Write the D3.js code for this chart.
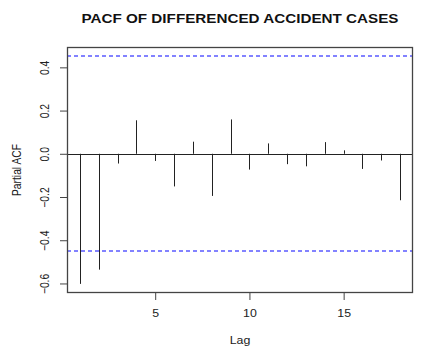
<!DOCTYPE html>
<html>
<head>
<meta charset="utf-8">
<script src="https://cdn.jsdelivr.net/npm/d3@7"></script>
<style>
body{margin:0;background:#fff;}
text{font-family:"Liberation Sans",Arial,sans-serif;}
</style>
</head>
<body>
<svg id="chart"></svg>
<script>
// pacf values
var lags = [1,2,3,4,5,6,7,8,9,10,11,12,13,14,15,16,17,18];
var pacfValues = [-0.602,-0.536,-0.045,0.155,-0.033,-0.151,0.056,-0.195,0.159,-0.073,0.048,-0.048,-0.058,0.054,0.016,-0.070,-0.031,-0.215];
var confLimits = [0.452,-0.452];
var xTicks = [5,10,15];
var yTicks = [-0.6,-0.4,-0.2,0.0,0.2,0.4];

var width = 421, height = 352;
var margin = {top:47, right:8, bottom:59, left:67};
var stretch = 1.2; // the picture's text is wider than it is tall
var fontSize = 10.3;

var svg = d3.select("#chart").attr("width", width).attr("height", height);

// R style 4% padding on both axes
var xExt = d3.extent(lags), xPad = (xExt[1]-xExt[0])*0.04;
var yAll = pacfValues.concat(confLimits);
var yExt = d3.extent(yAll), yPad = (yExt[1]-yExt[0])*0.04;

var x = d3.scaleLinear().domain([xExt[0]-xPad, xExt[1]+xPad]).range([margin.left, width-margin.right]);
var y = d3.scaleLinear().domain([yExt[0]-yPad, yExt[1]+yPad]).range([height-margin.bottom, margin.top]);

var g = svg.append("g");

// zero line
g.append("line")
	.attr("x1", x.range()[0]).attr("x2", x.range()[1])
	.attr("y1", Math.round(y(0))+0.5).attr("y2", Math.round(y(0))+0.5)
	.attr("stroke", "#222").attr("stroke-width", 1);

// sticks
g.selectAll(".stick").data(lags).enter().append("line")
	.attr("class", "stick")
	.attr("x1", function(d){ return Math.round(x(d))+0.5; })
	.attr("x2", function(d){ return Math.round(x(d))+0.5; })
	.attr("y1", y(0))
	.attr("y2", function(d,i){ return y(pacfValues[i]); })
	.attr("stroke", "#222").attr("stroke-width", 1);

// confidence limits, drawn over the sticks
g.selectAll(".clim").data(confLimits).enter().append("line")
	.attr("class", "clim")
	.attr("x1", x.range()[0]).attr("x2", x.range()[1])
	.attr("y1", function(d){ return Math.round(y(d)); })
	.attr("y2", function(d){ return Math.round(y(d)); })
	.style("stroke", "#5a5aff").style("stroke-width", 1.3)
	.style("stroke-dasharray", "4,3");

// box
svg.append("rect")
	.attr("x", margin.left+0.5).attr("y", margin.top+0.5)
	.attr("width", width-margin.left-margin.right-1)
	.attr("height", height-margin.top-margin.bottom-1)
	.attr("fill", "none").attr("stroke", "#444").attr("stroke-width", 1.3);

// x axis
var xAxis = svg.append("g")
	.attr("transform", "translate(0,"+(height-margin.bottom)+")")
	.call(d3.axisBottom(x).tickValues(xTicks).tickSize(7).tickFormat(d3.format("d")));
xAxis.select(".domain").remove();
xAxis.selectAll("line").attr("stroke", "#444");
xAxis.selectAll("text")
	.attr("font-size", fontSize).attr("fill", "#222")
	.style("font-family", "'Liberation Sans',Arial,sans-serif")
	.attr("y", 0).attr("dy", 0)
	.attr("transform", "translate(0,24) scale("+stretch+",1)");

// y axis, labels rotated like R
var yAxis = svg.append("g")
	.attr("transform", "translate("+margin.left+",0)")
	.call(d3.axisLeft(y).tickValues(yTicks).tickSize(7).tickFormat(d3.format(".1f")));
yAxis.select(".domain").remove();
yAxis.selectAll("line").attr("stroke", "#444");
yAxis.selectAll("text")
	.attr("font-size", fontSize).attr("fill", "#222")
	.style("font-family", "'Liberation Sans',Arial,sans-serif")
	.attr("text-anchor", "middle")
	.attr("x", 0).attr("y", 0).attr("dy", 0)
	.attr("transform", "translate(-18.5,0) scale("+stretch+",1) rotate(-90)");

// title
svg.append("text")
	.attr("x", (margin.left + width - margin.right)/2)
	.attr("y", 23.3)
	.attr("text-anchor", "middle")
	.attr("textLength", 317).attr("lengthAdjust", "spacingAndGlyphs")
	.attr("font-size", 12.6).attr("font-weight", "bold").attr("fill", "#111")
	.text("PACF OF DIFFERENCED ACCIDENT CASES");

// axis titles
svg.append("text")
	.attr("transform", "translate("+((margin.left + width - margin.right)/2)+",344) scale("+stretch+",1)")
	.attr("text-anchor", "middle")
	.attr("font-size", fontSize).attr("fill", "#222")
	.text("Lag");

svg.append("text")
	.attr("transform", "translate(21,"+((margin.top + height - margin.bottom)/2)+") scale("+stretch+",1) rotate(-90)")
	.attr("text-anchor", "middle")
	.attr("font-size", fontSize).attr("fill", "#222")
	.text("Partial ACF");
</script>
</body>
</html>
